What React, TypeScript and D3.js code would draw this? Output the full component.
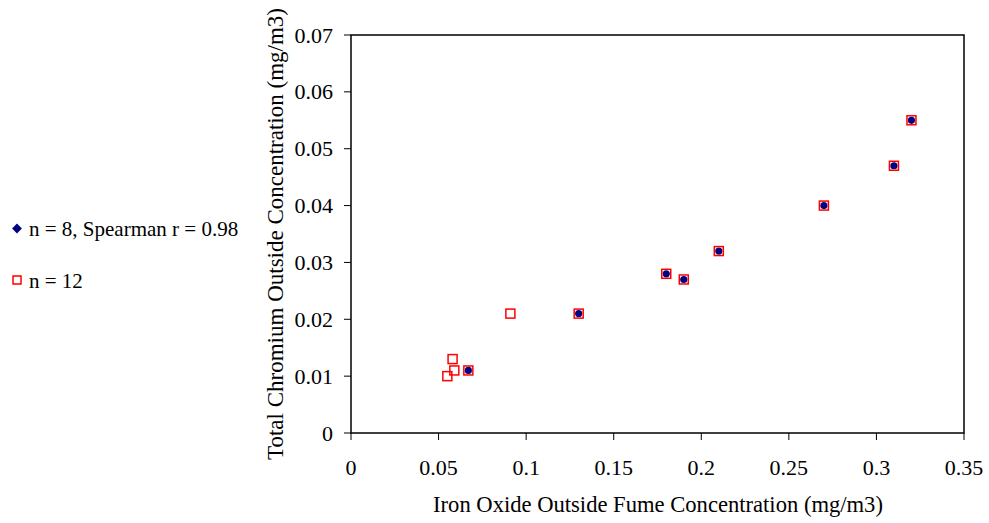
import React from "react";
import * as d3 from "d3";

const spearmanX = [0.067, 0.13, 0.18, 0.19, 0.21, 0.27, 0.31, 0.32];
const spearmanY = [0.011, 0.021, 0.028, 0.027, 0.032, 0.04, 0.047, 0.055];
const allX = [0.055, 0.058, 0.059, 0.067, 0.091, 0.13, 0.18, 0.19, 0.21, 0.27, 0.31, 0.32];
const allY = [0.01, 0.013, 0.011, 0.011, 0.021, 0.021, 0.028, 0.027, 0.032, 0.04, 0.047, 0.055];
const xTicks = [0, 0.05, 0.1, 0.15, 0.2, 0.25, 0.3, 0.35];
const yTicks = [0, 0.01, 0.02, 0.03, 0.04, 0.05, 0.06, 0.07];
const seriesNames = ["n = 8, Spearman r = 0.98", "n = 12"];
const xTitle = "Iron Oxide Outside Fume Concentration (mg/m3)";
const yTitle = "Total Chromium Outside Concentration (mg/m3)";

export default function App() {
  const W = 989, H = 523;
  const L = 351, R = 964, T = 35, B = 433;
  const x = d3.scaleLinear().domain([0, 0.35]).range([L, R]);
  const y = d3.scaleLinear().domain([0, 0.07]).range([B, T]);
  const font = "'Liberation Serif', 'Times New Roman', serif";
  const fmt = (v: number) => (v === 0 ? "0" : String(+v.toFixed(2)));
  const diamond = d3.symbol().type(d3.symbolSquare).size(48)();
  return (
    <svg width={W} height={H} style={{ position: "absolute", left: 0, top: 0, background: "#fff" }} fontFamily={font}>
      <rect x={L} y={T} width={R - L} height={B - T} fill="none" stroke="#000" strokeWidth={1.5} />
      {yTicks.map((t) => (
        <g key={"y" + t}>
          <line x1={L - 7} x2={L} y1={y(t)} y2={y(t)} stroke="#000" strokeWidth={1} />
          <text x={333} y={y(t) + 7.5} fontSize={22} textAnchor="end" fill="#000">{fmt(t)}</text>
        </g>
      ))}
      {xTicks.map((t) => (
        <g key={"x" + t}>
          <line x1={x(t)} x2={x(t)} y1={B} y2={B + 7} stroke="#000" strokeWidth={1} />
          <text x={x(t)} y={474.5} fontSize={22} textAnchor="middle" fill="#000">{fmt(t)}</text>
        </g>
      ))}
      <text x={(L + R) / 2 + 0.5} y={512} fontSize={22.6} textAnchor="middle" fill="#000">{xTitle}</text>
      <text transform={`translate(283, ${(T + B) / 2}) rotate(-90)`} fontSize={23} textAnchor="middle" fill="#000">{yTitle}</text>
      {spearmanX.map((v, i) => (
        <circle key={"b" + i} cx={x(v)} cy={y(spearmanY[i])} r={3.6} fill="#000080" />
      ))}
      {allX.map((v, i) => (
        <rect key={"r" + i} x={x(v) - 4.5} y={y(allY[i]) - 4.5} width={9} height={9} fill="none" stroke="#ff0000" strokeWidth={1.5} />
      ))}
      <path d={diamond} transform="translate(17, 228.5) rotate(45)" fill="#000080" />
      <text x={29} y={235.5} fontSize={21} fill="#000">{seriesNames[0]}</text>
      <rect x={13} y={276} width={8} height={8} fill="none" stroke="#ff0000" strokeWidth={1.5} />
      <text x={29} y={287.5} fontSize={21} fill="#000">{seriesNames[1]}</text>
    </svg>
  );
}
